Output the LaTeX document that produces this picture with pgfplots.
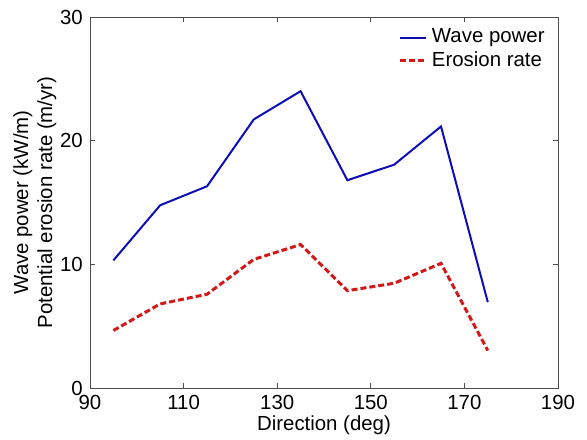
\documentclass[border=0pt]{standalone}
\usepackage{fontspec}
\setmainfont{Liberation Sans}
\usepackage{pgfplots}
\pgfplotsset{compat=1.18}
\definecolor{wblue}{rgb}{0.05,0.05,0.72}
\definecolor{ered}{rgb}{0.82,0.1,0.1}
\begin{document}
\fontsize{10.2}{12}\selectfont
\begin{tikzpicture}
\begin{axis}[
  name=ax,
  scale only axis,
  width=234pt, height=185.5pt,
  xmin=90, xmax=190, ymin=0, ymax=30,
  xtick={90,110,130,150,170,190},
  ytick={0,10,20,30},
  tick align=inside,
  major tick length=2.5pt,
  minor tick num=0,
  axis line style={line width=0.4pt, black!70},
  tick style={black!70, line width=0.4pt},
  /pgf/number format/assume math mode=true,
  ticklabel style={font=\fontsize{10.2}{12}\selectfont},
  label style={font=\fontsize{10.2}{12}\selectfont},
  xlabel={Direction (deg)},
  ylabel={Wave power (kW/m)\\Potential erosion rate (m/yr)},
  ylabel style={align=center, at={(axis description cs:-0.118,0.5)}, anchor=center},
  xlabel style={at={(axis description cs:0.5,-0.1)}, anchor=center},
  legend style={draw=none, fill=none, at={(rel axis cs:0.985,0.985)}, anchor=north east,
    font=\fontsize{10.2}{12}\selectfont, inner sep=1pt, row sep=-1pt},
  legend cell align=left,
  legend image code/.code={\draw[#1] (0pt,0pt) -- (13pt,0pt);},
]
\addplot[wblue, line width=1pt] coordinates {
(95,10.32) (105,14.78) (115,16.31) (125,21.72) (135,24.0) (145,16.8) (155,18.06) (165,21.15) (175,6.94)};
\addlegendentry{Wave power}
\addplot[ered, line width=1.5pt, dash pattern=on 3pt off 1.5pt] coordinates {
(95,4.65) (105,6.8) (115,7.58) (125,10.4) (135,11.6) (145,7.87) (155,8.47) (165,10.08) (175,3.03)};
\addlegendentry{Erosion rate}
\end{axis}
\pgfresetboundingbox
\path ([xshift=-45pt,yshift=-25.5pt]ax.south west) rectangle ++(293.5pt,219.5pt);
\end{tikzpicture}
\end{document}
